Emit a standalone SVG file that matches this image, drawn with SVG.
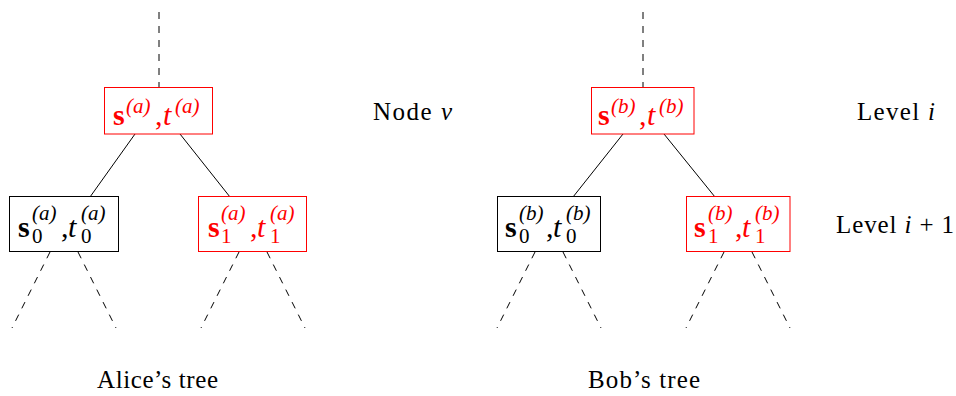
<svg xmlns="http://www.w3.org/2000/svg" width="956" height="396" viewBox="0 0 956 396">
<style>
text{font-family:"Liberation Serif",serif}
.box{fill:#fff;stroke-width:1}
.bk{stroke:#000}
.rd{stroke:#ff0000}
.edge{stroke:#000;stroke-width:1;fill:none}
.dash{stroke:#000;stroke-width:1;fill:none;stroke-dasharray:7 7}
.lbl{font-size:25px;fill:#000}
.m{font-size:30px}
.sb{font-weight:bold;font-style:normal}
.it{font-style:italic}
.sc{font-size:21px}
.red{fill:#ff0000}
.blk{fill:#000}
</style>
<rect width="956" height="396" fill="#fff"/>
<g id="connectors">
<line class="dash" x1="159" y1="12" x2="159" y2="87"/>
<line class="dash" x1="643" y1="12" x2="643" y2="87"/>
<line class="edge" x1="135" y1="134" x2="90" y2="197"/>
<line class="edge" x1="180" y1="134" x2="230" y2="197"/>
<line class="edge" x1="623" y1="134" x2="573" y2="197"/>
<line class="edge" x1="664" y1="134" x2="715" y2="197"/>
<line class="dash" x1="50" y1="252" x2="12" y2="328"/>
<line class="dash" x1="78" y1="252" x2="116" y2="328"/>
<line class="dash" x1="239" y1="252" x2="201" y2="328"/>
<line class="dash" x1="267" y1="252" x2="305" y2="328"/>
<line class="dash" x1="535" y1="252" x2="497" y2="328"/>
<line class="dash" x1="563" y1="252" x2="601" y2="328"/>
<line class="dash" x1="724" y1="252" x2="686" y2="328"/>
<line class="dash" x1="752" y1="252" x2="790" y2="328"/>
</g>
<g id="node-a-root">
<rect class="box rd" x="104.5" y="87.5" width="108" height="46.5"/>
<g class="red">
<text class="m sb" x="113" y="125">s</text>
<text class="sc it" x="126" y="113">(a)</text>
<text class="m" x="155" y="125">,</text>
<text class="m it" x="163" y="125">t</text>
<text class="sc it" x="175" y="113">(a)</text>
</g>
</g>
<g id="node-a-0">
<rect class="box bk" x="9.5" y="196.5" width="109" height="55"/>
<g class="blk">
<text class="m sb" x="18" y="237">s</text>
<text class="sc it" x="32" y="220">(a)</text>
<text class="sc" x="32" y="243">0</text>
<text class="m" x="61" y="237">,</text>
<text class="m it" x="68" y="237">t</text>
<text class="sc it" x="81" y="220">(a)</text>
<text class="sc" x="81" y="243">0</text>
</g>
</g>
<g id="node-a-1">
<rect class="box rd" x="198.5" y="196.5" width="108" height="55"/>
<g class="red">
<text class="m sb" x="208" y="237">s</text>
<text class="sc it" x="221" y="220">(a)</text>
<text class="sc" x="221" y="243">1</text>
<text class="m" x="250" y="237">,</text>
<text class="m it" x="257" y="237">t</text>
<text class="sc it" x="270" y="220">(a)</text>
<text class="sc" x="270" y="243">1</text>
</g>
</g>
<g id="node-b-root">
<rect class="box rd" x="591.5" y="87.5" width="102.5" height="46.5"/>
<g class="red">
<text class="m sb" x="598" y="125">s</text>
<text class="sc it" x="611" y="113">(b)</text>
<text class="m" x="639" y="125">,</text>
<text class="m it" x="647" y="125">t</text>
<text class="sc it" x="659" y="113">(b)</text>
</g>
</g>
<g id="node-b-0">
<rect class="box bk" x="497.5" y="196.5" width="103" height="55"/>
<g class="blk">
<text class="m sb" x="505" y="237">s</text>
<text class="sc it" x="519" y="220">(b)</text>
<text class="sc" x="519" y="243">0</text>
<text class="m" x="546" y="237">,</text>
<text class="m it" x="553" y="237">t</text>
<text class="sc it" x="566" y="220">(b)</text>
<text class="sc" x="566" y="243">0</text>
</g>
</g>
<g id="node-b-1">
<rect class="box rd" x="686.5" y="196.5" width="103.5" height="55"/>
<g class="red">
<text class="m sb" x="694" y="237">s</text>
<text class="sc it" x="708" y="220">(b)</text>
<text class="sc" x="708" y="243">1</text>
<text class="m" x="735" y="237">,</text>
<text class="m it" x="742" y="237">t</text>
<text class="sc it" x="755" y="220">(b)</text>
<text class="sc" x="755" y="243">1</text>
</g>
</g>
<g id="labels">
<text class="lbl" x="373" y="120" textLength="79">Node <tspan class="it">ν</tspan></text>
<text class="lbl" x="857" y="120" textLength="78">Level <tspan class="it">i</tspan></text>
<text class="lbl" x="836" y="233" textLength="118">Level <tspan class="it">i</tspan> + 1</text>
<text class="lbl" x="97" y="388" textLength="121">Alice’s tree</text>
<text class="lbl" x="588" y="388" textLength="112">Bob’s tree</text>
</g>
</svg>
